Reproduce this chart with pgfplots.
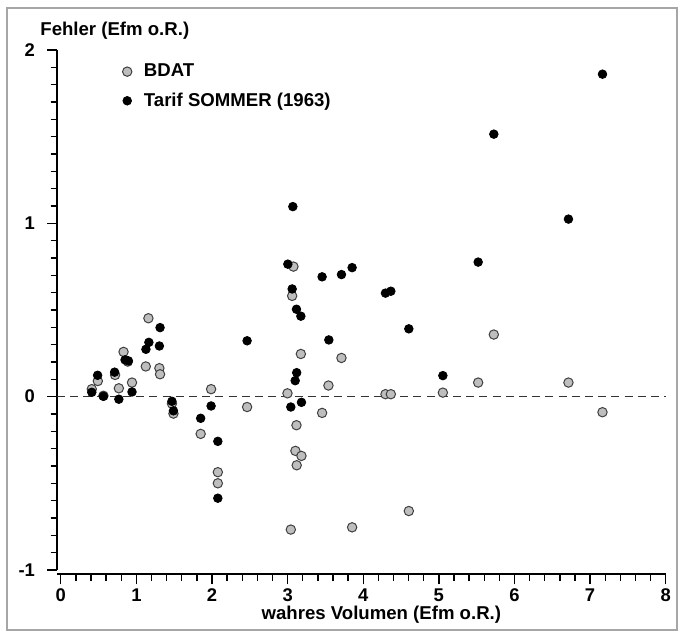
\documentclass[border=0pt]{standalone}
\usepackage{fontspec}
\setmainfont{Liberation Sans}
\usepackage{pgfplots}
\pgfplotsset{compat=1.18}
\definecolor{bdatgray}{HTML}{BEBEBE}
\definecolor{edgegray}{HTML}{404040}

\begin{document}
\begin{tikzpicture}
\begin{axis}[
    scale only axis,
    width=304.35pt, height=262.2pt,
    xmin=-0.05, xmax=8, ymin=-1.025, ymax=2,
    axis x line*=bottom, axis y line*=left,
    axis line style={-, line width=1pt},
    y axis line style={shorten <=2pt},
    xtick={0,1,...,8}, ytick={-1,0,1,2},
    minor x tick num=4, minor y tick num=9,
    tick align=outside,
    major tick length=5pt, minor tick length=3.2pt,
    tick style={line width=0.7pt, black},
    tick label style={font=\fontsize{9.2}{10}\selectfont\bfseries},
    /pgf/number format/assume math mode=true,
    xticklabel style={yshift=1.5pt},
    yticklabel style={xshift=-2.5pt},
    xlabel={wahres Volumen (Efm o.R.)},
    xlabel style={font=\fontsize{9.3}{10}\selectfont\bfseries, xshift=10pt, yshift=4.5pt},
    legend style={draw=none, fill=none, at={(0.107,0.982)}, anchor=north west,
                  font=\fontsize{9.3}{10}\selectfont\bfseries, inner sep=0pt,
                  row sep=2.5pt, nodes={inner xsep=6pt}},
    legend cell align=left,
    legend image code/.code={\draw[#1] plot coordinates {(2.3pt,0pt)};},
    clip=false,
]
\addplot[only marks, mark=*, mark size=2.35pt, mark options={fill=bdatgray, draw=edgegray, line width=0.5pt}]
coordinates {
(0.41,0.043) (0.49,0.09) (0.564,0.005) (0.718,0.125) (0.768,0.048)
(0.83,0.258) (0.886,0.202) (0.942,0.081) (1.124,0.174) (1.159,0.452)
(1.304,0.164) (1.313,0.129) (1.47,-0.04) (1.49,-0.098) (1.85,-0.215)
(1.988,0.043) (2.077,-0.436) (2.077,-0.50) (2.464,-0.06) (2.998,0.019)
(3.042,-0.767) (3.06,0.581) (3.077,0.750) (3.103,-0.313) (3.117,-0.165)
(3.12,-0.396) (3.175,0.246) (3.183,-0.342) (3.456,-0.094) (3.54,0.064)
(3.712,0.223) (3.853,-0.754) (4.294,0.014) (4.365,0.014) (4.603,-0.66)
(5.053,0.023) (5.52,0.081) (5.727,0.358) (6.714,0.081) (7.164,-0.09)
};
\addlegendentry{BDAT}
\addplot[only marks, mark=*, mark size=2.15pt, mark options={fill=black, draw=black}]
coordinates {
(0.41,0.025) (0.487,0.123) (0.564,0.002) (0.712,0.141) (0.768,-0.015)
(0.85,0.212) (0.894,0.206) (0.942,0.027) (1.126,0.273) (1.165,0.313)
(1.304,0.292) (1.313,0.398) (1.47,-0.027) (1.49,-0.082) (1.85,-0.125)
(1.988,-0.054) (2.077,-0.258) (2.077,-0.586) (2.464,0.322) (3.003,0.764)
(3.042,-0.06) (3.06,0.621) (3.069,1.096) (3.10,0.092) (3.117,0.504)
(3.12,0.138) (3.175,0.464) (3.183,-0.033) (3.456,0.691) (3.545,0.327)
(3.712,0.704) (3.853,0.744) (4.294,0.597) (4.365,0.608) (4.603,0.391)
(5.053,0.121) (5.52,0.776) (5.727,1.514) (6.714,1.024) (7.164,1.86)
};
\addlegendentry{Tarif SOMMER (1963)}
\addplot[forget plot, line width=0.5pt, black!80, dash pattern=on 4pt off 2.6pt]
  coordinates {(-0.05,0) (8,0)};
\node[anchor=base west, inner sep=0pt, font=\fontsize{9.3}{10}\selectfont\bfseries]
  at ([xshift=-8.5pt,yshift=7pt]rel axis cs:0,1) {Fehler (Efm o.R.)};
\end{axis}
\draw[gray!70, line width=0.6pt] (-25pt,-27.85pt) rectangle (310pt,283.15pt);
\useasboundingbox (-28.5pt,-29.35pt) rectangle (311.5pt,287.15pt);
\end{tikzpicture}
\end{document}
